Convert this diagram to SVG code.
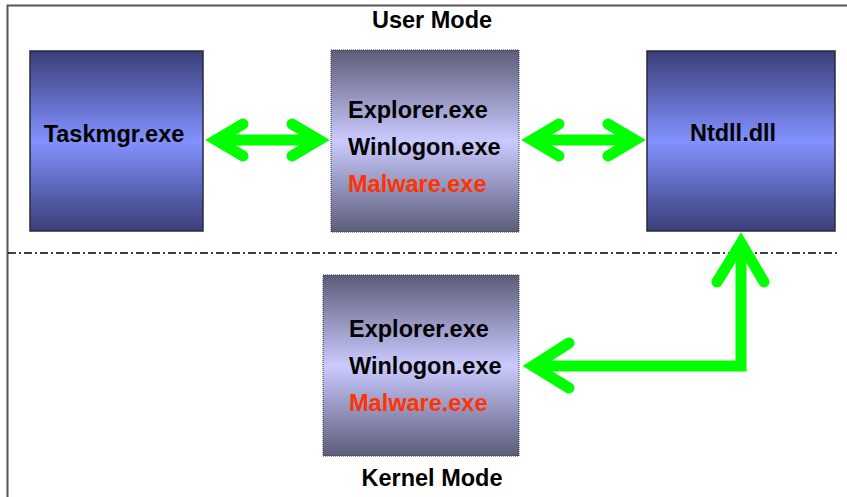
<svg xmlns="http://www.w3.org/2000/svg" width="847" height="497" viewBox="0 0 847 497">
<defs>
<linearGradient id="gBlue" x1="0" y1="0" x2="0" y2="1">
<stop offset="0" stop-color="#3a3e78"/>
<stop offset="0.5" stop-color="#8291ff"/>
<stop offset="1" stop-color="#3a3e78"/>
</linearGradient>
<linearGradient id="gGray" x1="0" y1="0" x2="0" y2="1">
<stop offset="0" stop-color="#5c5c7a"/>
<stop offset="0.5" stop-color="#cacaff"/>
<stop offset="1" stop-color="#5c5c7a"/>
</linearGradient>
<style>
.t{font-family:"Liberation Sans",Arial,sans-serif;font-weight:bold;font-size:23.5px;fill:#000;text-anchor:middle}
.l{text-anchor:start}
.m{fill:#ff3300}
.bb{fill:url(#gBlue);stroke:#2a2a3a;stroke-width:1.5}
.gb{fill:url(#gGray);stroke:#333344;stroke-width:1;stroke-dasharray:1 1}
.ar{fill:none;stroke:#00ff00;stroke-width:11;stroke-linecap:round;stroke-linejoin:miter}
.sh{fill:none;stroke:#00ff00;stroke-width:11;stroke-linecap:butt;stroke-linejoin:miter}
</style>
</defs>
<rect x="0" y="0" width="847" height="497" fill="#fff"/>
<path d="M7.5 497 V5.5 H847" fill="none" stroke="#555" stroke-width="2"/>
<line x1="8" y1="253" x2="840" y2="253" stroke="#000" stroke-width="1.3" stroke-dasharray="8 3 2 3"/>
<text class="t" x="432" y="28">User Mode</text>
<text class="t" x="432" y="486">Kernel Mode</text>
<g id="taskmgr">
<rect class="bb" x="30" y="51" width="173" height="180"/>
<text class="t" x="114" y="142">Taskmgr.exe</text>
</g>
<g id="usermode-procs">
<rect class="gb" x="331" y="50" width="188" height="182"/>
<text class="t l" x="348" y="118">Explorer.exe</text>
<text class="t l" x="348" y="155">Winlogon.exe</text>
<text class="t l m" x="348" y="192">Malware.exe</text>
</g>
<g id="ntdll">
<rect class="bb" x="647" y="51" width="188" height="180"/>
<text class="t" x="733" y="141">Ntdll.dll</text>
</g>
<g id="kernel-procs">
<rect class="gb" x="323" y="275" width="196" height="181"/>
<text class="t l" x="349" y="337">Explorer.exe</text>
<text class="t l" x="349" y="374">Winlogon.exe</text>
<text class="t l m" x="349" y="411">Malware.exe</text>
</g>
<g id="connectors">
<line class="sh" x1="216" y1="140" x2="319" y2="140"/>
<polyline class="ar" points="243,124 216,140 243,156"/>
<polyline class="ar" points="292,124 319,140 292,156"/>
<line class="sh" x1="532" y1="140" x2="635" y2="140"/>
<polyline class="ar" points="559,124 532,140 559,156"/>
<polyline class="ar" points="608,124 635,140 608,156"/>
<path class="sh" d="M533 366 H741 V243"/>
<polyline class="ar" points="569,343 533,366 569,388"/>
<polyline class="ar" points="717,282 741,243 764,282"/>
</g>
</svg>
